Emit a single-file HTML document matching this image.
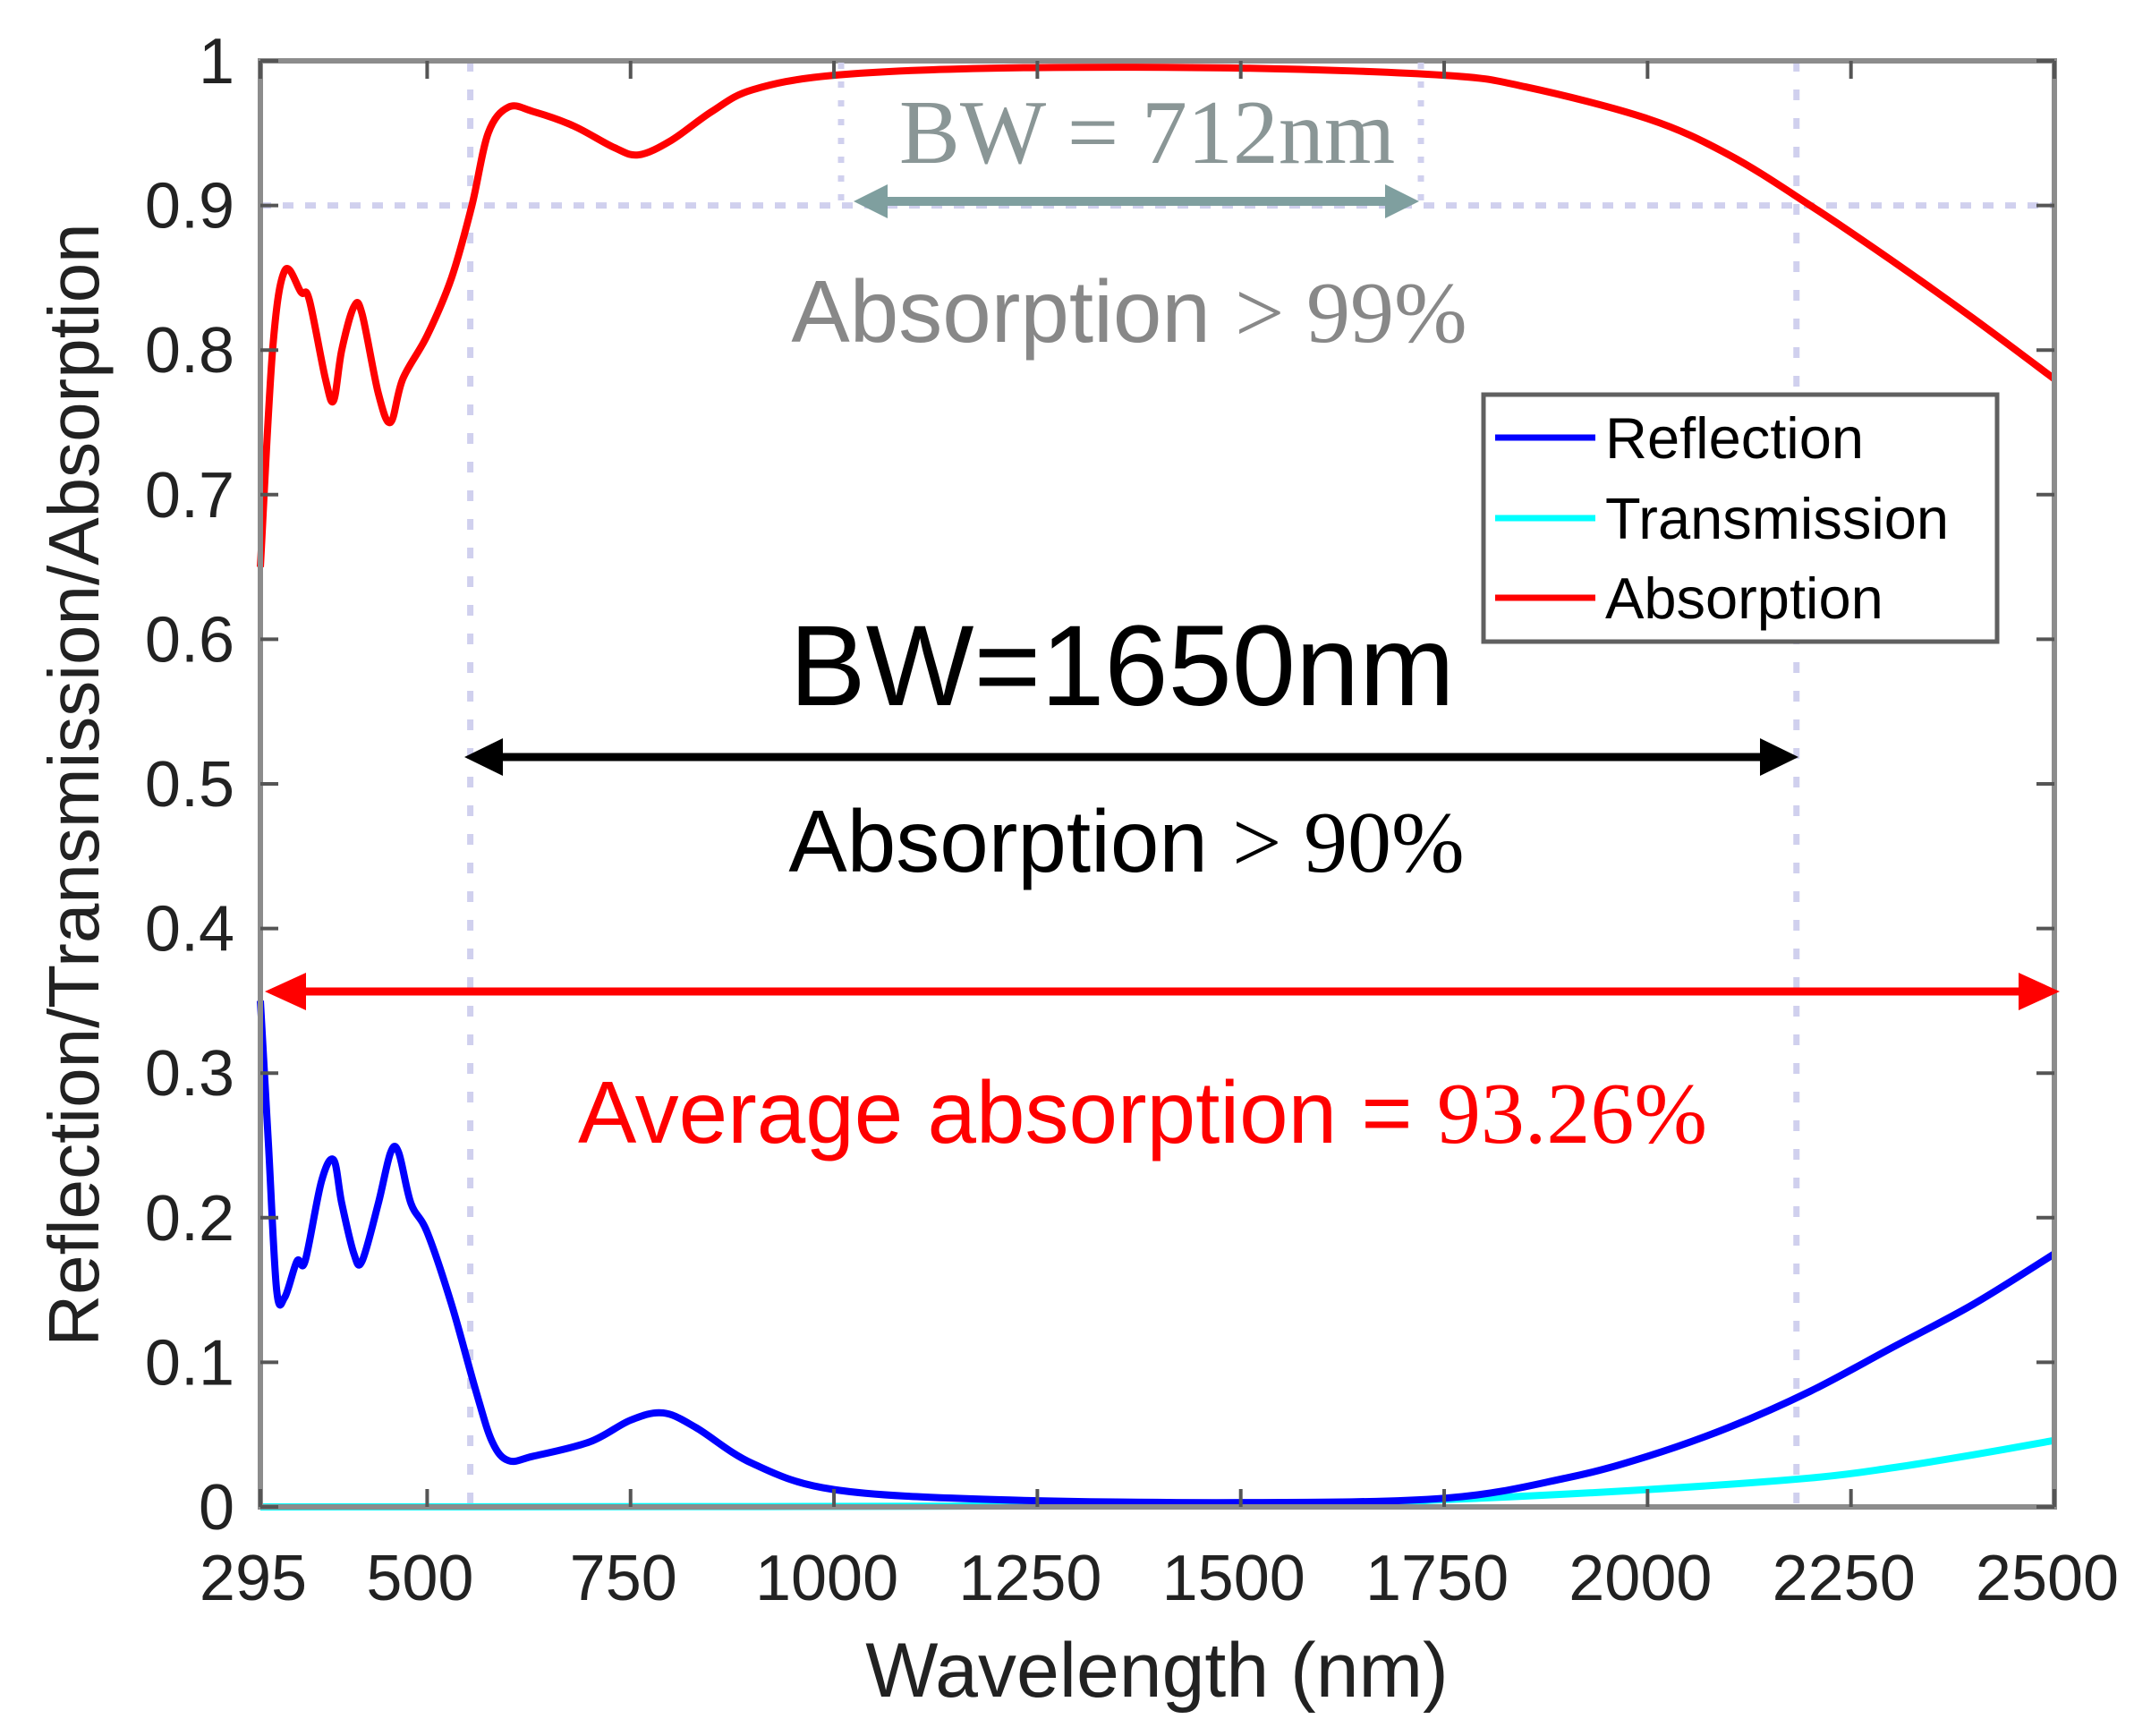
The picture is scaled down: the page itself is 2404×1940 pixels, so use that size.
<!DOCTYPE html>
<html><head><meta charset="utf-8"><style>
html,body{margin:0;padding:0;background:#fff;}
svg{display:block;font-family:"Liberation Sans",sans-serif;}
</style></head><body>
<svg id="s" width="2404" height="1940" viewBox="0 0 2404 1940" xmlns="http://www.w3.org/2000/svg">
<rect width="2404" height="1940" fill="#fff"/>
<g id="grid"></g>
<g id="curves"></g>
<g id="axes"></g>
<g fill="none">
<line x1="940" y1="70" x2="940" y2="226" stroke="#d0d0ee" stroke-width="7" stroke-dasharray="7,14"/>
<line x1="1588" y1="70" x2="1588" y2="226" stroke="#d0d0ee" stroke-width="7" stroke-dasharray="7,14"/>
</g>
<text x="1282" y="182" font-family="Liberation Serif, serif" font-size="102" fill="#8a9696" text-anchor="middle">BW = 712nm</text>
<line x1="975" y1="225" x2="1565" y2="225" stroke="#7f9f9f" stroke-width="10"/>
<polygon points="954,225 992,206 992,244" fill="#7f9f9f"/>
<polygon points="1586,225 1548,206 1548,244" fill="#7f9f9f"/>
<text x="1262" y="382" font-size="98" fill="#888" text-anchor="middle">Absorption <tspan font-family="Liberation Serif, serif">&gt; 99%</tspan></text>
<text x="1254" y="788" font-size="128" fill="#000" text-anchor="middle">BW=1650nm</text>
<line x1="545" y1="846" x2="1985" y2="846" stroke="#000" stroke-width="9"/>
<polygon points="519,846 562,825 562,867" fill="#000"/>
<polygon points="2010,846 1967,825 1967,867" fill="#000"/>
<text x="1259" y="974" font-size="98" fill="#000" text-anchor="middle">Absorption <tspan font-family="Liberation Serif, serif">&gt; 90%</tspan></text>
<line x1="320" y1="1108" x2="2278" y2="1108" stroke="#f00" stroke-width="9"/>
<polygon points="296,1108 342,1087 342,1129" fill="#f00"/>
<polygon points="2302,1108 2256,1087 2256,1129" fill="#f00"/>
<text x="1277" y="1277" font-size="98" fill="#f00" text-anchor="middle">Average absorption = <tspan font-family="Liberation Serif, serif">93.26%</tspan></text>
<rect x="1658" y="441" width="574" height="276" fill="#fff" stroke="#606060" stroke-width="5"/>
<line x1="1671" y1="489" x2="1783" y2="489" stroke="#00f" stroke-width="7"/>
<line x1="1671" y1="579" x2="1783" y2="579" stroke="#0ff" stroke-width="7"/>
<line x1="1671" y1="668" x2="1783" y2="668" stroke="#f00" stroke-width="7"/>
<text x="1794" y="512" font-size="65" fill="#000">Reflection</text>
<text x="1794" y="602" font-size="65" fill="#000">Transmission</text>
<text x="1794" y="691" font-size="65" fill="#000">Absorption</text>
<text x="1293" y="1896" font-size="86" fill="#222" text-anchor="middle">Wavelength (nm)</text>
<text transform="translate(110,877) rotate(-90)" font-size="80" fill="#222" text-anchor="middle">Reflection/Transmission/Absorption</text>
<g id="labels" font-size="72" fill="#222"></g>
</svg>
<script>
var X0=291,X1=2296,Y0=1684,Y1=68;
function px(n){return X0+(n-295)*(X1-X0)/2205;}
function py(v){return Y0+(Y1-Y0)*v;}
var NS="http://www.w3.org/2000/svg";
function el(p,t,a,txt){var e=document.createElementNS(NS,t);for(var k in a)e.setAttribute(k,a[k]);if(txt!==undefined)e.textContent=txt;document.getElementById(p).appendChild(e);return e;}
el("grid","line",{x1:X0,y1:py(0.9),x2:X1,y2:py(0.9),stroke:"#d0d0ee","stroke-width":7,"stroke-dasharray":"12,13"});
el("grid","line",{x1:px(553),y1:Y1,x2:px(553),y2:Y0,stroke:"#d0d0ee","stroke-width":7,"stroke-dasharray":"12,20"});
el("grid","line",{x1:px(2183),y1:Y1,x2:px(2183),y2:Y0,stroke:"#d0d0ee","stroke-width":7,"stroke-dasharray":"12,20"});
function path(pts){var P=pts.map(function(p){return [px(p[0]),py(p[1])];});var d="M"+P[0][0]+","+P[0][1];
for(var i=0;i<P.length-1;i++){var p0=P[Math.max(i-1,0)],p1=P[i],p2=P[i+1],p3=P[Math.min(i+2,P.length-1)];
d+=" C"+(p1[0]+(p2[0]-p0[0])/6)+","+(p1[1]+(p2[1]-p0[1])/6)+" "+(p2[0]-(p3[0]-p1[0])/6)+","+(p2[1]-(p3[1]-p1[1])/6)+" "+p2[0]+","+p2[1];}
return d;}
var T=[[295,0],[1500,0.001],[1750,0.005],[2000,0.012],[2200,0.02],[2300,0.027],[2400,0.036],[2500,0.046]];
var R=[[295,0.35],[305,0.25],[315,0.15],[325,0.145],[340,0.17],[350,0.17],[370,0.225],[385,0.24],[395,0.21],[410,0.175],[420,0.17],[440,0.21],[455,0.245],[465,0.245],[480,0.21],[500,0.19],[530,0.14],[560,0.08],[580,0.045],[600,0.032],[630,0.035],[700,0.045],[750,0.06],[790,0.065],[830,0.055],[900,0.03],[1000,0.012],[1200,0.005],[1500,0.003],[1750,0.006],[1900,0.02],[2000,0.035],[2100,0.055],[2200,0.08],[2300,0.11],[2400,0.14],[2500,0.175]];
var A=[[295,0.65],[310,0.8],[325,0.855],[345,0.84],[355,0.835],[375,0.78],[385,0.765],[395,0.8],[410,0.83],[420,0.825],[440,0.77],[455,0.75],[470,0.78],[500,0.81],[530,0.85],[555,0.9],[575,0.95],[600,0.968],[630,0.965],[680,0.955],[730,0.94],[760,0.935],[800,0.945],[850,0.965],[900,0.98],[1000,0.99],[1200,0.995],[1500,0.995],[1750,0.99],[1850,0.982],[2000,0.96],[2100,0.935],[2200,0.9],[2300,0.862],[2400,0.822],[2500,0.78]];
el("curves","path",{d:path(T),fill:"none",stroke:"#0ff","stroke-width":8});
el("curves","path",{d:path(R),fill:"none",stroke:"#00f","stroke-width":8});
el("curves","path",{d:path(A),fill:"none",stroke:"#f00","stroke-width":8});
el("axes","rect",{x:X0,y:Y1,width:X1-X0,height:Y0-Y1,fill:"none",stroke:"#8c8c8c","stroke-width":6});
var xt=[295,500,750,1000,1250,1500,1750,2000,2250,2500];
xt.forEach(function(n){var x=px(n);
el("axes","line",{x1:x,y1:Y0,x2:x,y2:Y0-20,stroke:"#555","stroke-width":4});
el("axes","line",{x1:x,y1:Y1,x2:x,y2:Y1+20,stroke:"#555","stroke-width":4});
el("labels","text",{x:x-8,y:1788,"text-anchor":"middle"},String(n));});
for(var i=0;i<=10;i++){var v=i/10,y=py(v);
el("axes","line",{x1:X0,y1:y,x2:X0+20,y2:y,stroke:"#555","stroke-width":4});
el("axes","line",{x1:X1,y1:y,x2:X1-20,y2:y,stroke:"#555","stroke-width":4});
var s=i==0?"0":(i==10?"1":"0."+i);
el("labels","text",{x:262,y:y+25,"text-anchor":"end"},s);}
</script>
</body></html>
